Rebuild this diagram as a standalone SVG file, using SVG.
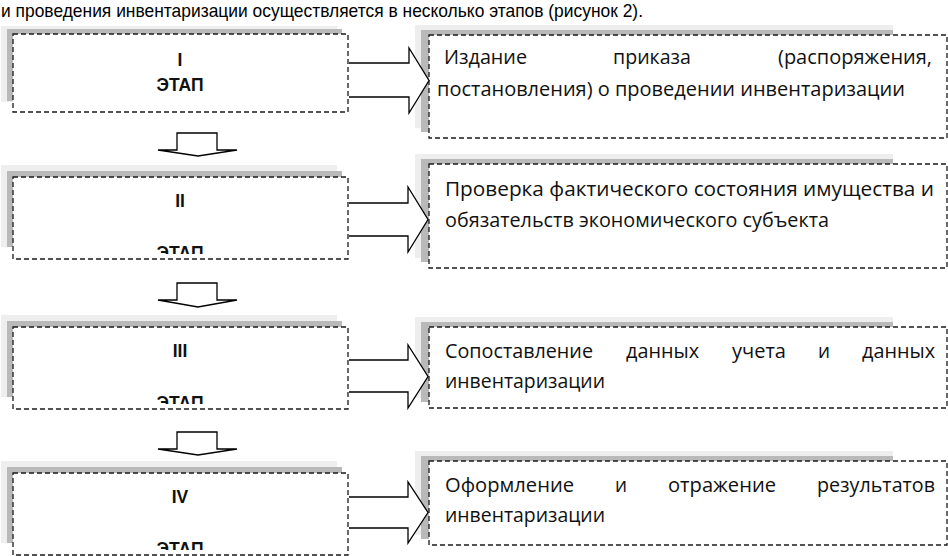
<svg xmlns="http://www.w3.org/2000/svg" width="948" height="556" viewBox="0 0 948 556">
<style>
.box{fill:#fff;stroke:#1a1a1a;stroke-width:1.3;stroke-dasharray:5 3}
.sh1{fill:#eeeeee}
.sh2{fill:#b9b9b9}
.arrow{fill:#fff;stroke:#000;stroke-width:1.3;stroke-linejoin:miter}
.lbl{font-family:"Liberation Sans",Arial,sans-serif;font-weight:bold;font-size:17.5px;text-anchor:middle;fill:#111}
.txt{font-family:"Open Sans","Noto Sans","DejaVu Sans",sans-serif;font-size:20px;fill:#111}
.hdr{font-family:"Liberation Sans",Arial,sans-serif;font-size:18.5px;fill:#000}
</style>
<defs>
<clipPath id="c2"><rect x="13" y="177" width="335" height="77"/></clipPath>
<clipPath id="c3"><rect x="13" y="327" width="335" height="77"/></clipPath>
<clipPath id="c4"><rect x="13" y="473" width="335" height="77"/></clipPath>
</defs>
<rect width="948" height="556" fill="#fff"/>
<text class="hdr" x="1" y="17" textLength="642" lengthAdjust="spacingAndGlyphs">и проведения инвентаризации осуществляется в несколько этапов (рисунок 2).</text>

<g id="stage1">
<rect class="sh1" x="1" y="26" width="336" height="76"/>
<rect class="sh2" x="7" y="29" width="335" height="72"/>
<rect class="box" x="13" y="34" width="335" height="78"/>
<text class="lbl" x="180" y="66">I</text>
<text class="lbl" x="180" y="91">ЭТАП</text>
</g>
<g id="stage2">
<rect class="sh1" x="1" y="165" width="336" height="82"/>
<rect class="sh2" x="7" y="171" width="335" height="76"/>
<rect class="box" x="13" y="177" width="335" height="82"/>
<text class="lbl" x="180" y="207">II</text>
<text class="lbl" x="180" y="259" clip-path="url(#c2)">ЭТАП</text>
</g>
<g id="stage3">
<rect class="sh1" x="1" y="315" width="336" height="82"/>
<rect class="sh2" x="7" y="321" width="335" height="76"/>
<rect class="box" x="13" y="327" width="335" height="82"/>
<text class="lbl" x="180" y="357">III</text>
<text class="lbl" x="180" y="409" clip-path="url(#c3)">ЭТАП</text>
</g>
<g id="stage4">
<rect class="sh1" x="1" y="461" width="336" height="82"/>
<rect class="sh2" x="7" y="467" width="335" height="76"/>
<rect class="box" x="13" y="473" width="335" height="82"/>
<text class="lbl" x="180" y="503">IV</text>
<text class="lbl" x="180" y="555" clip-path="url(#c4)">ЭТАП</text>
</g>

<g id="desc1">
<rect class="sh1" x="415" y="25" width="478" height="103"/>
<rect class="sh2" x="421" y="30" width="472" height="102"/>
<rect class="box" x="429" y="35" width="518" height="103"/>
<text class="txt" x="444" y="64" textLength="83" lengthAdjust="spacingAndGlyphs">Издание</text>
<text class="txt" x="613" y="64" textLength="78" lengthAdjust="spacingAndGlyphs">приказа</text>
<text class="txt" x="778" y="64" textLength="154" lengthAdjust="spacingAndGlyphs">(распоряжения,</text>
<text class="txt" x="437" y="96" textLength="468" lengthAdjust="spacingAndGlyphs">постановления) о проведении инвентаризации</text>
</g>
<g id="desc2">
<rect class="sh1" x="415" y="154" width="478" height="104"/>
<rect class="sh2" x="421" y="159" width="472" height="103"/>
<rect class="box" x="429" y="164" width="518" height="104"/>
<text class="txt" x="445" y="196" textLength="489" lengthAdjust="spacingAndGlyphs">Проверка фактического состояния имущества и</text>
<text class="txt" x="445" y="227" textLength="384" lengthAdjust="spacingAndGlyphs">обязательств экономического субъекта</text>
</g>
<g id="desc3">
<rect class="sh1" x="415" y="317" width="478" height="81"/>
<rect class="sh2" x="421" y="322" width="472" height="80"/>
<rect class="box" x="429" y="327" width="518" height="81"/>
<text class="txt" x="445" y="358" textLength="148" lengthAdjust="spacingAndGlyphs">Сопоставление</text>
<text class="txt" x="626" y="358" textLength="73" lengthAdjust="spacingAndGlyphs">данных</text>
<text class="txt" x="732" y="358" textLength="54" lengthAdjust="spacingAndGlyphs">учета</text>
<text class="txt" x="818" y="358" textLength="12" lengthAdjust="spacingAndGlyphs">и</text>
<text class="txt" x="862" y="358" textLength="73" lengthAdjust="spacingAndGlyphs">данных</text>
<text class="txt" x="445" y="388" textLength="160" lengthAdjust="spacingAndGlyphs">инвентаризации</text>
</g>
<g id="desc4">
<rect class="sh1" x="415" y="451" width="478" height="84"/>
<rect class="sh2" x="421" y="456" width="472" height="83"/>
<rect class="box" x="429" y="461" width="518" height="84"/>
<text class="txt" x="445" y="492" textLength="129" lengthAdjust="spacingAndGlyphs">Оформление</text>
<text class="txt" x="615" y="492" textLength="12" lengthAdjust="spacingAndGlyphs">и</text>
<text class="txt" x="668" y="492" textLength="108" lengthAdjust="spacingAndGlyphs">отражение</text>
<text class="txt" x="817" y="492" textLength="118" lengthAdjust="spacingAndGlyphs">результатов</text>
<text class="txt" x="445" y="522" textLength="160" lengthAdjust="spacingAndGlyphs">инвентаризации</text>
</g>

<g id="connectors">
<path class="arrow" d="M349,63 H409 V48 L429,80.5 L409,113 V97 H349"/>
<path class="arrow" d="M349,203 H408 V187 L428,219.5 L408,252 V236 H349"/>
<path class="arrow" d="M349,360 H408 V345 L428,376.5 L408,408 V392 H349"/>
<path class="arrow" d="M349,497 H408 V482 L428,512.5 L408,543 V528 H349"/>
<path class="arrow" d="M177,133 H217 V150 H237 L198,156 L158,150 H177 Z"/>
<path class="arrow" d="M177,283 H217 V300 H237 L198,307 L158,300 H177 Z"/>
<path class="arrow" d="M177,432 H217 V449 H237 L198,455 L158,449 H177 Z"/>
</g>
</svg>
